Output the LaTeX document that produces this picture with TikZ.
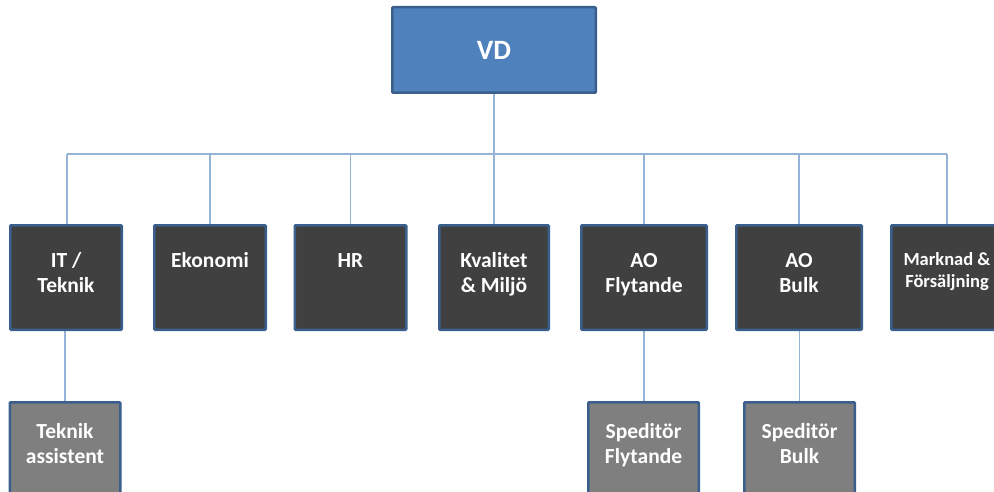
\documentclass[tikz,border=0pt]{standalone}
\usepackage{fontspec}
\setmainfont{Carlito}
\usetikzlibrary{backgrounds}
\definecolor{boxline}{HTML}{3A5F8C}
\definecolor{darkfill}{HTML}{404040}
\definecolor{grayfill}{HTML}{7F7F7F}
\definecolor{vdfill}{HTML}{4F81BD}
\definecolor{connline}{HTML}{95B3D7}
\begin{document}
\begin{tikzpicture}[x=1pt,y=-1pt,
  box/.style={draw=boxline, line width=2.5pt, rounded corners=1pt, inner sep=0pt},
  mid/.style={box, fill=darkfill, minimum width=111.5pt, minimum height=104.5pt},
  low/.style={box, fill=grayfill, minimum width=110.5pt, minimum height=104.5pt},
  lbl/.style={text=white, align=center, inner sep=0pt, anchor=north, font=\bfseries\fontsize{21.5}{25}\selectfont},
  conn/.style={draw=connline, line width=1.3pt}]
\useasboundingbox (0,0) rectangle (994,492);
\clip (0,0) rectangle (994,492);
% boxes
\node[box, fill=vdfill, minimum width=203.5pt, minimum height=85.5pt] (vd) at (494,50) {};
\node[mid] (it) at (66,277.5) {};
\node[mid] (eko) at (210,277.5) {};
\node[mid] (hr) at (350.5,277.5) {};
\node[mid, minimum width=109.5pt] (kva) at (494,277.5) {};
\node[mid, minimum width=125.5pt] (aof) at (644,277.5) {};
\node[mid, minimum width=125.5pt] (aob) at (799,277.5) {};
\node[mid] (mf) at (947,277.5) {};
\node[low] (ta) at (65,454.5) {};
\node[low] (sf) at (643.5,454.5) {};
\node[low] (sb) at (799.5,454.5) {};
% texts
\node[text=white, inner sep=0pt, font=\bfseries\fontsize{28}{32}\selectfont] (tvd) at (vd) {VD};
\node[lbl] (tit) at ([yshift=-25.5pt]it.north) {\strut IT /\\Teknik};
\node[lbl] (teko) at ([yshift=-25.5pt]eko.north) {\strut Ekonomi};
\node[lbl] (thr) at ([yshift=-25.5pt]hr.north) {\strut HR};
\node[lbl] (tkva) at ([yshift=-25.5pt]kva.north) {\strut Kvalitet\\\&~Miljö};
\node[lbl] (taof) at ([yshift=-25.5pt]aof.north) {\strut AO\\Flytande};
\node[lbl] (taob) at ([yshift=-25.5pt]aob.north) {\strut AO\\Bulk};
\node[lbl, font=\bfseries\fontsize{18.5}{22}\selectfont] (tmf) at ([yshift=-26.3pt]mf.north) {\strut Marknad \&\\Försäljning};
\node[lbl] (tta) at ([yshift=-19.5pt]ta.north) {\strut Teknik\\assistent};
\node[lbl] (tsf) at ([yshift=-19.5pt]sf.north) {\strut Speditör\\Flytande};
\node[lbl] (tsb) at ([yshift=-19.5pt]sb.north) {\strut Speditör\\Bulk};
% connectors
\begin{scope}[on background layer]
\coordinate (busL) at (67,154);
\coordinate (busR) at (947,154);
\draw[conn] (busL) -- (busR);
\draw[conn] (vd.south) -- (vd.south |- busL);
\draw[conn] (busL) -- (busL |- it.north);
\draw[conn] (eko.north |- busL) -- (eko.north);
\draw[conn] (hr.north |- busL) -- (hr.north);
\draw[conn] (kva.north |- busL) -- (kva.north);
\draw[conn] (aof.north |- busL) -- (aof.north);
\draw[conn] (aob.north |- busL) -- (aob.north);
\draw[conn] (busR) -- (busR |- mf.north);
\draw[conn] (ta.north |- it.south) -- (ta.north);
\draw[conn] (aof.south) -- (aof.south |- sf.north);
\draw[conn] (sb.north |- aob.south) -- (sb.north);
\end{scope}
\end{tikzpicture}
\end{document}
